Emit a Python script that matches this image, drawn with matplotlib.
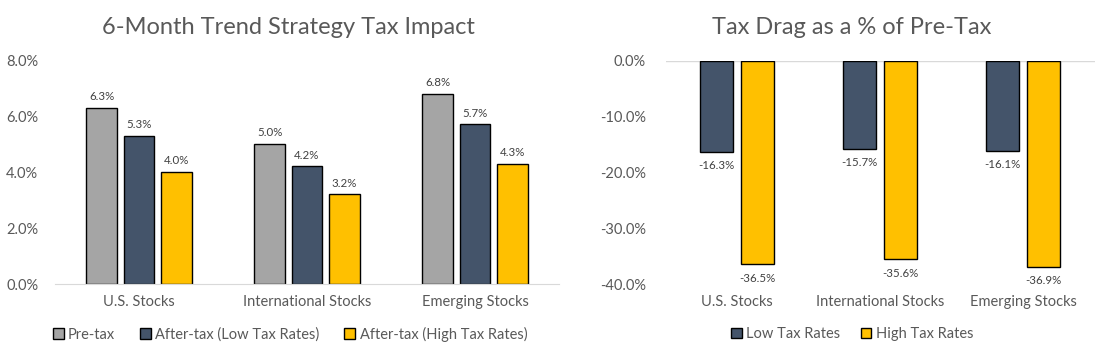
import numpy as np
import matplotlib.pyplot as plt

plt.rcParams['font.family'] = ['Lato', 'DejaVu Sans']

# data
categories = ['U.S. Stocks', 'International Stocks', 'Emerging Stocks']
pre_tax = [6.3, 5.0, 6.8]
after_low = [5.3, 4.2, 5.7]
after_high = [4.0, 3.2, 4.3]
left_series = ['Pre-tax', 'After-tax (Low Tax Rates)', 'After-tax (High Tax Rates)']

drag_low = [-16.3, -15.7, -16.1]
drag_high = [-36.5, -35.6, -36.9]
right_series = ['Low Tax Rates', 'High Tax Rates']

grey = '#A5A5A5'
navy = '#44546A'
gold = '#FFC000'
txt = '#595959'
lbl = '#404040'

fig = plt.figure(figsize=(11.08, 3.56), dpi=100)
x = np.arange(len(categories))

# ---- left chart
ax1 = fig.add_axes([55/1108, 72/356, 504/1108, 224/356])
w = 0.18
step = 0.223
h1 = []
for i, (vals, col) in enumerate(zip([pre_tax, after_low, after_high], [grey, navy, gold])):
    b = ax1.bar(x + (i - 1) * step, vals, w, color=col, edgecolor='black', linewidth=1.0,
                label=left_series[i])
    h1.append(b)
    for xi, v in zip(x + (i - 1) * step, vals):
        ax1.annotate(f'{v:.1f}%', (xi, v), xytext=(0, 4), textcoords='offset points',
                     ha='center', va='bottom', fontsize=8.3, color=lbl)
ax1.set_xlim(-0.5, 2.5)
ax1.set_ylim(0, 8)
ax1.set_yticks(np.arange(0, 8.1, 2))
ax1.set_yticklabels([f'{t:.1f}%' for t in np.arange(0, 8.1, 2)])
ax1.set_xticks(x)
ax1.set_xticklabels(categories)
for s in ['top', 'right', 'left']:
    ax1.spines[s].set_visible(False)
ax1.spines['bottom'].set_color('#D9D9D9')
ax1.tick_params(length=0, labelsize=10.5, colors=txt, pad=8)
ax1.tick_params(axis='y', pad=12)
fig.text(288/1108, 1 - 27/356, '6-Month Trend Strategy Tax Impact', ha='center', va='center',
         fontsize=17, color=txt)
fig.legend(handles=h1, loc='center', bbox_to_anchor=(290/1108, 1 - 334/356), ncol=3,
           frameon=False, fontsize=10.5, handlelength=0.75, handleheight=0.75,
           handletextpad=0.3, columnspacing=1.7, labelcolor=txt)

# ---- right chart
ax2 = fig.add_axes([665.5/1108, 72/356, 429/1108, 223/356])
w2 = 0.23
off = 0.143
h2 = []
for i, (vals, col) in enumerate(zip([drag_low, drag_high], [navy, gold])):
    pos = x + (i * 2 - 1) * off
    b = ax2.bar(pos, vals, w2, color=col, edgecolor='black', linewidth=1.0,
                label=right_series[i])
    h2.append(b)
    for xi, v in zip(pos, vals):
        ax2.annotate(f'{v:.1f}%', (xi, v), xytext=(0, -6), textcoords='offset points',
                     ha='center', va='top', fontsize=8.3, color=lbl)
ax2.set_xlim(-0.5, 2.5)
ax2.set_ylim(-40, 0)
yt = np.arange(-40, 0.1, 10)
ax2.set_yticks(yt)
ax2.set_yticklabels([f'{t:.1f}%' for t in yt])
ax2.set_xticks(x)
ax2.set_xticklabels(categories)
for s in ['top', 'right', 'left', 'bottom']:
    ax2.spines[s].set_visible(False)
ax2.axhline(0, color='#D9D9D9', linewidth=1.0, zorder=0)
ax2.tick_params(length=0, labelsize=10.5, colors=txt, pad=8)
ax2.tick_params(axis='y', pad=14)
fig.text(852/1108, 1 - 27/356, 'Tax Drag as a % of Pre-Tax', ha='center', va='center',
         fontsize=17, color=txt)
fig.legend(handles=h2, loc='center', bbox_to_anchor=(852/1108, 1 - 334/356), ncol=2,
           frameon=False, fontsize=10.5, handlelength=0.75, handleheight=0.75,
           handletextpad=0.3, columnspacing=1.4, labelcolor=txt)

fig.savefig('out.png', dpi=100)
